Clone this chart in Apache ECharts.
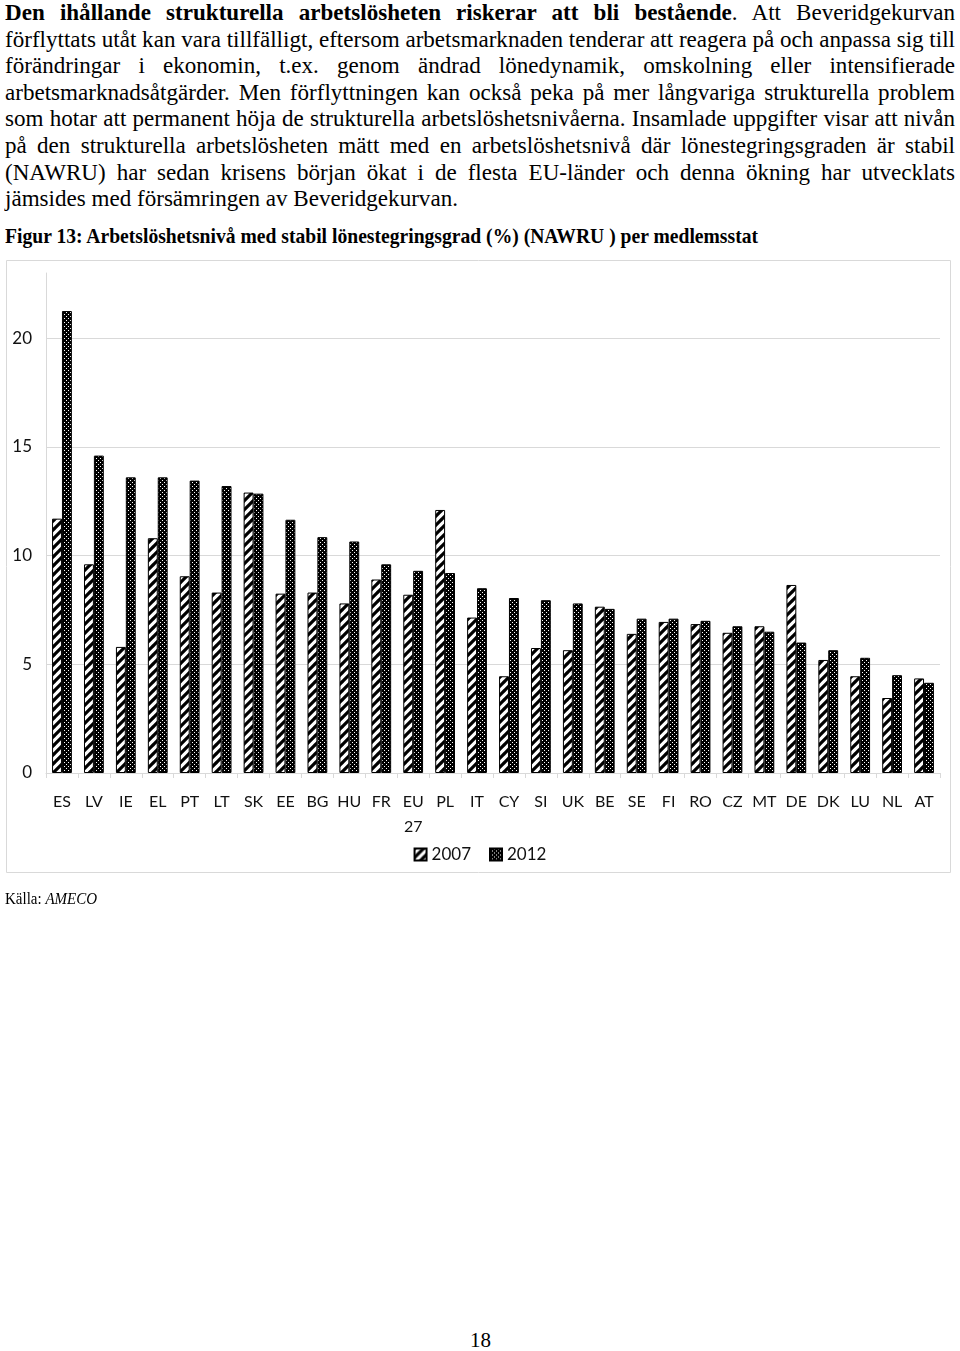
<!DOCTYPE html>
<html><head><meta charset="utf-8">
<script src="https://cdn.jsdelivr.net/npm/echarts@6/dist/echarts.min.js"></script>
<style>
html,body{margin:0;padding:0;background:#fff;width:960px;height:1351px;overflow:hidden;position:relative}
.t{position:absolute;white-space:nowrap;font-family:'Liberation Serif','Times New Roman',serif;color:#000;transform-origin:0 50%}
.ln{left:5px;font-size:24px;line-height:26px}
#chart{position:absolute;left:0;top:250px;width:960px;height:640px}
</style></head><body>
<div class="t ln" data-j="1"><b>Den ihållande strukturella arbetslösheten riskerar att bli bestående</b>. Att Beveridgekurvan</div>
<div class="t ln" data-j="1">förflyttats utåt kan vara tillfälligt, eftersom arbetsmarknaden tenderar att reagera på och anpassa sig till</div>
<div class="t ln" data-j="1">förändringar i ekonomin, t.ex. genom ändrad lönedynamik, omskolning eller intensifierade</div>
<div class="t ln" data-j="1">arbetsmarknadsåtgärder. Men förflyttningen kan också peka på mer långvariga strukturella problem</div>
<div class="t ln" data-j="1">som hotar att permanent höja de strukturella arbetslöshetsnivåerna. Insamlade uppgifter visar att nivån</div>
<div class="t ln" data-j="1">på den strukturella arbetslösheten mätt med en arbetslöshetsnivå där lönestegringsgraden är stabil</div>
<div class="t ln" data-j="1">(NAWRU) har sedan krisens början ökat i de flesta EU-länder och denna ökning har utvecklats</div>
<div class="t ln" data-j="0">jämsides med försämringen av Beveridgekurvan.</div>
<div class="t" id="cap" style="left:5px;top:224px;font-size:21px;line-height:24px;font-weight:bold">Figur 13: Arbetslöshetsnivå med stabil lönestegringsgrad (%) (NAWRU ) per medlemsstat</div>
<div id="chart"></div>
<div class="t" id="src" style="left:5px;top:889px;font-size:17px;line-height:20px">Källa: <i>AMECO</i></div>
<div class="t" id="pg" style="left:470px;top:1328px;font-size:21px;line-height:24px">18</div>
<script>
// ---- data ----
const categories = ['ES','LV','IE','EL','PT','LT','SK','EE','BG','HU','FR','EU 27','PL','IT','CY','SI','UK','BE','SE','FI','RO','CZ','MT','DE','DK','LU','NL','AT'];
const seriesNames = ['2007','2012'];
const values2007 = [11.7, 9.6, 5.8, 10.8, 9.05, 8.3, 12.9, 8.25, 8.3, 7.8, 8.9, 8.2, 12.1, 7.15, 4.45, 5.75, 5.65, 7.65, 6.4, 6.95, 6.85, 6.45, 6.75, 8.65, 5.2, 4.45, 3.45, 4.35];
const values2012 = [21.25, 14.6, 13.6, 13.6, 13.45, 13.2, 12.85, 11.65, 10.85, 10.65, 9.6, 9.3, 9.2, 8.5, 8.05, 7.95, 7.8, 7.55, 7.1, 7.1, 7.0, 6.75, 6.5, 6.0, 5.65, 5.3, 4.5, 4.15];
const yTicks = {min: 0, max: 23, interval: 5};

// ---- text layout ----
(function(){
  const lines = Array.from(document.querySelectorAll('.ln'));
  const target = 950;
  const w = lines.map(el => el.getBoundingClientRect().width);
  let s = Infinity;
  lines.forEach((el,i) => { if (el.dataset.j === '1') s = Math.min(s, target / w[i]); });
  lines.forEach((el,i) => {
    el.style.top = (26.6 * i - 1) + 'px';
    if (el.dataset.j === '1') {
      const n = (el.textContent.match(/ /g) || []).length;
      el.style.wordSpacing = ((target / s - w[i]) / n) + 'px';
    }
    el.style.transform = 'scaleX(' + s + ')';
  });
  function fit(id, tw){ const el = document.getElementById(id); const ww = el.getBoundingClientRect().width; el.style.transform = 'scaleX(' + (tw/ww) + ')'; }
  fit('cap', 753);
  fit('src', 92);
})();

// ---- patterns ----
function stripeTile(){
  const n = 9;
  const c = document.createElement('canvas'); c.width = n; c.height = n;
  const g = c.getContext('2d');
  g.fillStyle = '#fff'; g.fillRect(0,0,n,n);
  g.strokeStyle = '#000'; g.lineWidth = 3.2; g.lineCap = 'square';
  g.beginPath();
  for (let k = -n; k <= n; k += n) { g.moveTo(k, n); g.lineTo(k + n, 0); }
  g.stroke();
  return c;
}
function dotTile(){
  const c = document.createElement('canvas'); c.width = 4; c.height = 4;
  const g = c.getContext('2d');
  g.fillStyle = '#000'; g.fillRect(0,0,4,4);
  g.fillStyle = '#fff'; g.fillRect(0,0,1,1); g.fillRect(2,2,1,1);
  return c;
}

const chart = echarts.init(document.getElementById('chart'), null, {renderer: 'canvas'});
const labelFont = 'Lato, "Open Sans", sans-serif';
chart.setOption({
  animation: false,
  grid: {left: 46, right: 20, top: 23, bottom: 117, containLabel: false},
  graphic: [{type: 'rect', silent: true, z: -10, shape: {x: 6.5, y: 10.5, width: 944, height: 612}, style: {fill: 'none', stroke: '#d9d9d9', lineWidth: 1}}],
  legend: {data: seriesNames, top: 591, left: 'center', icon: 'rect', itemWidth: 12, itemHeight: 12, itemGap: 18,
    textStyle: {fontSize: 17, color: '#111', fontFamily: labelFont}},
  xAxis: {type: 'category', data: categories,
    axisLine: {lineStyle: {color: '#d9d9d9'}},
    axisTick: {show: true, length: 5, lineStyle: {color: '#d9d9d9'}},
    axisLabel: {interval: 0, fontSize: 16, lineHeight: 25, margin: 16, color: '#111', fontFamily: labelFont,
      formatter: v => v.replace(' ', '\n')}},
  yAxis: {type: 'value', min: yTicks.min, max: yTicks.max, interval: yTicks.interval,
    axisLine: {show: true, lineStyle: {color: '#d9d9d9'}},
    axisTick: {show: false},
    axisLabel: {fontSize: 17, color: '#111', margin: 14, fontFamily: labelFont, showMaxLabel: false},
    splitLine: {show: true, showMaxLine: false, lineStyle: {color: '#d9d9d9'}}},
  series: [
    {name: seriesNames[0], type: 'bar', data: values2007, barGap: '0%', barCategoryGap: '38%',
      itemStyle: {color: {image: stripeTile(), repeat: 'repeat'}, borderColor: '#000', borderWidth: 1}},
    {name: seriesNames[1], type: 'bar', data: values2012, barGap: '0%', barCategoryGap: '38%',
      itemStyle: {color: {image: dotTile(), repeat: 'repeat'}, borderColor: '#000', borderWidth: 1}}
  ]
});
</script>
</body></html>
